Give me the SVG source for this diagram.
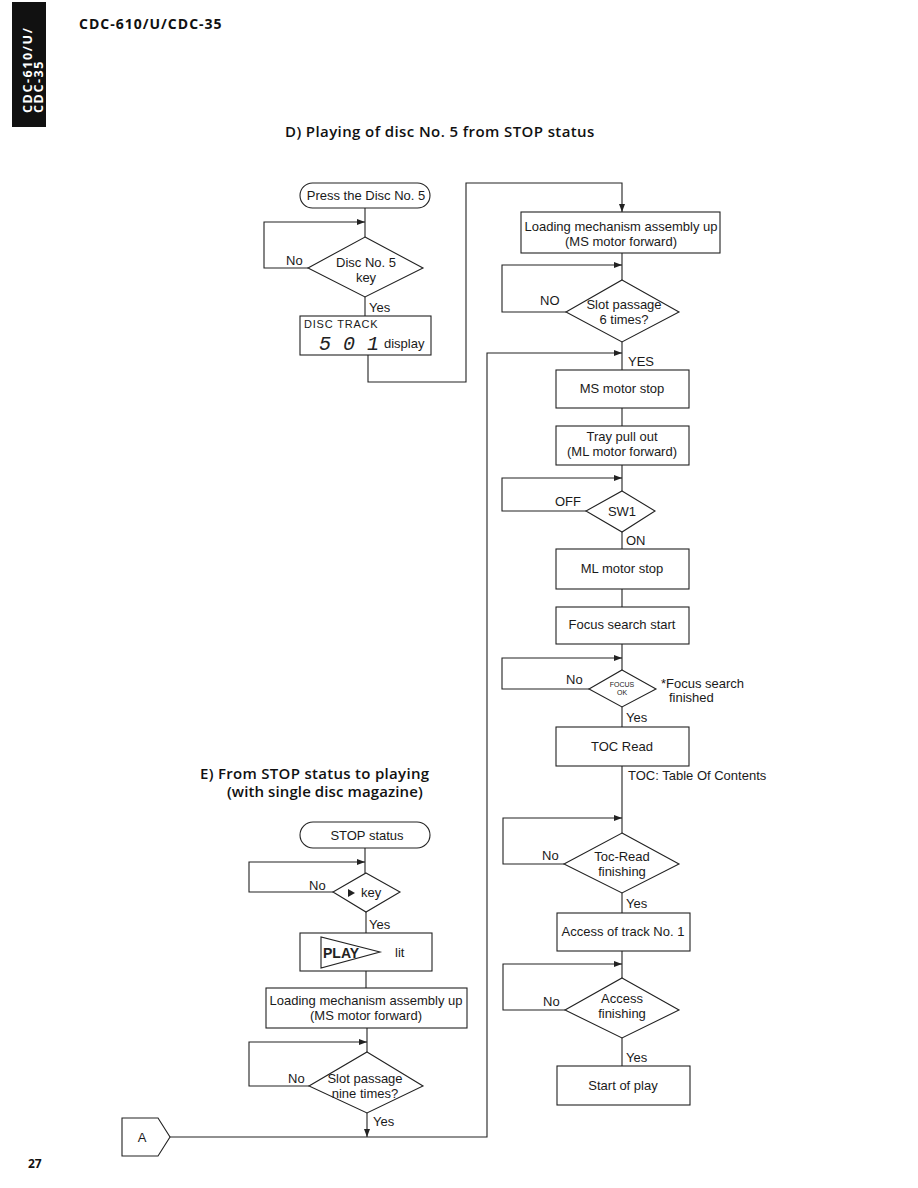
<svg xmlns="http://www.w3.org/2000/svg" width="918" height="1188" viewBox="0 0 918 1188">
<style>
.bg{fill:#fff}
.box{fill:#fff;stroke:#222;stroke-width:1.1}
.ln{fill:none;stroke:#222;stroke-width:1.1}
.t{font-family:"Liberation Sans",Arial,sans-serif;font-size:13px;fill:#1a1a1a}
.c{text-anchor:middle}
.h{font-family:"Open Sans","Liberation Sans",sans-serif;font-weight:bold;fill:#111}
.hs{font-family:"Open Sans","Liberation Sans",sans-serif;font-weight:600;font-size:15px;fill:#111}
</style>
<defs>
<marker id="ar" markerUnits="userSpaceOnUse" markerWidth="9" markerHeight="7" refX="8" refY="3" orient="auto">
<path d="M0,0 L8,3 L0,6 z" fill="#222"/>
</marker>
</defs>
<rect class="bg" x="0" y="0" width="918" height="1188"/>

<g id="sidebar">
<rect x="12" y="2" width="34" height="125" fill="#111"/>
<text class="h" font-size="12.5" style="fill:#fff" transform="translate(32,113) rotate(-90)" letter-spacing="1.6">CDC-610/U/</text>
<text class="h" font-size="12.5" style="fill:#fff" transform="translate(43,113) rotate(-90)" letter-spacing="1.6">CDC-35</text>
</g>
<text class="h" x="79" y="29" font-size="14" letter-spacing="1">CDC-610/U/CDC-35</text>
<text class="h" x="28" y="1168" font-size="12">27</text>

<text class="hs" x="285" y="137" letter-spacing="0.4">D)  Playing of disc No. 5 from STOP status</text>
<text class="hs" x="200" y="779" letter-spacing="0.3">E)  From STOP status to playing</text>
<text class="hs" x="227" y="797" letter-spacing="0.1">(with single disc magazine)</text>

<g id="connectors">
<path class="ln" d="M365,208 V237"/>
<path class="ln" d="M308,268 H264 V222 H365" marker-end="url(#ar)"/>
<path class="ln" d="M365,297 V316"/>
<path class="ln" d="M368,355 V382 H466 V183 H622 V212" marker-end="url(#ar)"/>
<path class="ln" d="M622,253 V280"/>
<path class="ln" d="M566,312 H502 V265 H622" marker-end="url(#ar)"/>
<path class="ln" d="M622,342 V370"/>
<path class="ln" d="M170,1137 H487 V353 H622" marker-end="url(#ar)"/>
<path class="ln" d="M622,408 V426"/>
<path class="ln" d="M622,465 V491"/>
<path class="ln" d="M586,511 H502 V478 H622" marker-end="url(#ar)"/>
<path class="ln" d="M622,532 V549"/>
<path class="ln" d="M622,589 V607"/>
<path class="ln" d="M622,644 V670"/>
<path class="ln" d="M589,689 H502 V658 H622" marker-end="url(#ar)"/>
<path class="ln" d="M622,707 V727"/>
<path class="ln" d="M622,766 V833"/>
<path class="ln" d="M564,864 H503 V818 H622" marker-end="url(#ar)"/>
<path class="ln" d="M622,893 V913"/>
<path class="ln" d="M622,951 V978"/>
<path class="ln" d="M565,1010 H503 V964 H622" marker-end="url(#ar)"/>
<path class="ln" d="M622,1038 V1066"/>
<path class="ln" d="M365,848 V873"/>
<path class="ln" d="M333,892 H249 V862 H365" marker-end="url(#ar)"/>
<path class="ln" d="M366,912 V933"/>
<path class="ln" d="M366,971 V988"/>
<path class="ln" d="M367,1028 V1052"/>
<path class="ln" d="M309,1086 H249 V1042 H367" marker-end="url(#ar)"/>
<path class="ln" d="M367,1113 V1137" marker-end="url(#ar)"/>
<g class="t">
<text x="286" y="265">No</text>
<text x="369" y="312">Yes</text>
<text x="540" y="305">NO</text>
<text x="628" y="366">YES</text>
<text x="555" y="506">OFF</text>
<text x="626" y="545">ON</text>
<text x="566" y="684">No</text>
<text x="626" y="722">Yes</text>
<text x="628" y="780">TOC: Table Of Contents</text>
<text x="542" y="860">No</text>
<text x="626" y="908">Yes</text>
<text x="543" y="1006">No</text>
<text x="626" y="1062">Yes</text>
<text x="309" y="890">No</text>
<text x="369" y="929">Yes</text>
<text x="288" y="1083">No</text>
<text x="373" y="1126">Yes</text>
</g>
</g>

<g id="press5">
<rect class="box" x="300" y="183" width="130" height="25" rx="12.5"/>
<text class="t c" x="366" y="200">Press the Disc No. 5</text>
</g>
<g id="disc5key">
<path class="box" d="M365,237 L423,268 L365,297 L308,268 Z"/>
<text class="t c" x="366" y="267">Disc No. 5</text>
<text class="t c" x="366" y="282">key</text>
</g>
<g id="display501">
<rect class="box" x="300" y="316" width="131" height="39"/>
<text class="t" x="304" y="328" style="font-size:11px" letter-spacing="0.8">DISC  TRACK</text>
<text x="319" y="350" font-family="Liberation Mono,monospace" font-size="20" font-style="italic" fill="#222">5 0 1</text>
<text class="t" x="384" y="348">display</text>
</g>

<g id="loadD">
<rect class="box" x="521" y="212" width="199" height="41"/>
<text class="t c" x="621" y="231">Loading mechanism assembly up</text>
<text class="t c" x="621" y="246">(MS motor forward)</text>
</g>
<g id="slot6">
<path class="box" d="M622,280 L679,312 L622,342 L566,312 Z"/>
<text class="t c" x="624" y="309">Slot passage</text>
<text class="t c" x="624" y="324">6 times?</text>
</g>
<g id="msstop">
<rect class="box" x="556" y="370" width="133" height="38"/>
<text class="t c" x="622" y="393">MS motor stop</text>
</g>
<g id="traypull">
<rect class="box" x="556" y="426" width="133" height="39"/>
<text class="t c" x="622" y="441">Tray pull out</text>
<text class="t c" x="622" y="456">(ML motor forward)</text>
</g>
<g id="sw1">
<path class="box" d="M622,491 L655,511 L622,532 L586,511 Z"/>
<text class="t c" x="622" y="516">SW1</text>
</g>
<g id="mlstop">
<rect class="box" x="556" y="549" width="133" height="40"/>
<text class="t c" x="622" y="573">ML motor stop</text>
</g>
<g id="focusstart">
<rect class="box" x="556" y="607" width="133" height="37"/>
<text class="t c" x="622" y="629">Focus search start</text>
</g>
<g id="focusok">
<path class="box" d="M622,670 L656,689 L622,707 L589,689 Z"/>
<text class="t c" x="622" y="687" style="font-size:7px">FOCUS</text>
<text class="t c" x="622" y="695" style="font-size:7px">OK</text>
<text class="t" x="661" y="688">*Focus search</text>
<text class="t" x="669" y="702">finished</text>
</g>
<g id="tocread">
<rect class="box" x="556" y="727" width="133" height="39"/>
<text class="t c" x="622" y="751">TOC Read</text>
</g>
<g id="tocfinish">
<path class="box" d="M622,833 L679,864 L622,893 L564,864 Z"/>
<text class="t c" x="622" y="861">Toc-Read</text>
<text class="t c" x="622" y="876">finishing</text>
</g>
<g id="access1">
<rect class="box" x="557" y="913" width="133" height="38"/>
<text class="t c" x="623" y="936">Access of track No. 1</text>
</g>
<g id="accessfinish">
<path class="box" d="M622,978 L679,1010 L622,1038 L565,1010 Z"/>
<text class="t c" x="622" y="1003">Access</text>
<text class="t c" x="622" y="1018">finishing</text>
</g>
<g id="startplay">
<rect class="box" x="557" y="1066" width="133" height="39"/>
<text class="t c" x="623" y="1090">Start of play</text>
</g>

<g id="stopstatus">
<rect class="box" x="300" y="822" width="130" height="26" rx="13"/>
<text class="t c" x="367" y="840">STOP status</text>
</g>
<g id="playkey">
<path class="box" d="M366,873 L400,892 L366,912 L333,892 Z"/>
<path d="M348,889 L355,893 L348,897 Z" fill="#222"/>
<text class="t" x="361" y="897">key</text>
</g>
<g id="playlit">
<rect class="box" x="300" y="933" width="132" height="38"/>
<path class="ln" d="M321,937 V968 L380,952 Z"/>
<text x="323" y="958" font-family="Liberation Sans,Arial,sans-serif" font-weight="bold" font-size="14" fill="#222">PLAY</text>
<text class="t" x="395" y="957">lit</text>
</g>
<g id="loadE">
<rect class="box" x="266" y="988" width="201" height="40"/>
<text class="t c" x="366" y="1005">Loading mechanism assembly up</text>
<text class="t c" x="366" y="1020">(MS motor forward)</text>
</g>
<g id="slot9">
<path class="box" d="M367,1052 L423,1086 L367,1113 L309,1086 Z"/>
<text class="t c" x="365" y="1083">Slot passage</text>
<text class="t c" x="365" y="1098">nine times?</text>
</g>
<g id="connA">
<path class="box" d="M122,1118 H158 L170,1137 L158,1156 H122 Z"/>
<text class="t c" x="142" y="1142">A</text>
</g>
</svg>
